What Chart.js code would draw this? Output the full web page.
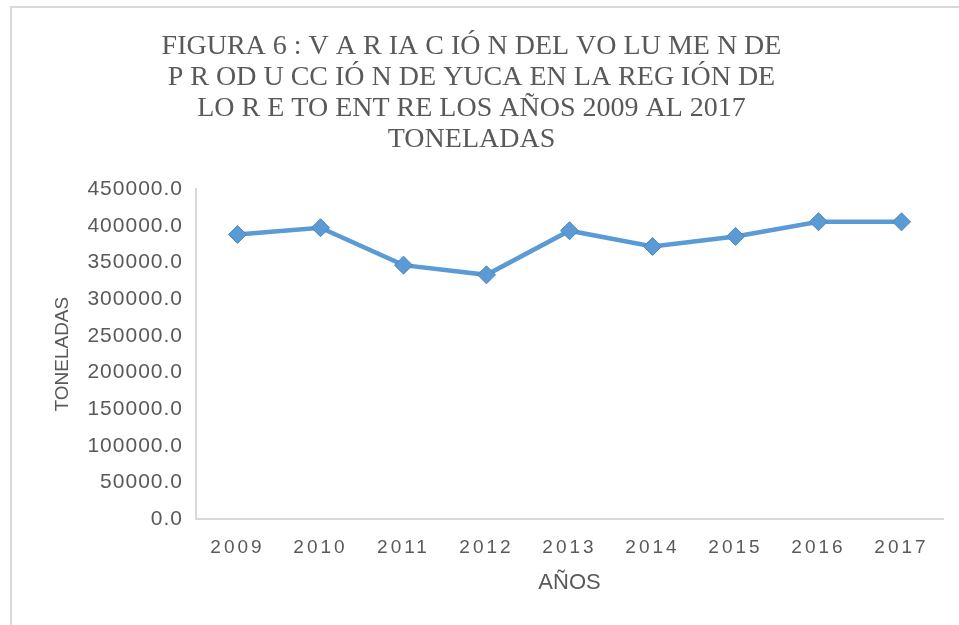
<!DOCTYPE html>
<html>
<head>
<meta charset="utf-8">
<script src="https://cdn.jsdelivr.net/npm/chart.js@4.4.1/dist/chart.umd.min.js"></script>
<style>
  html, body { margin: 0; padding: 0; background: #ffffff; }
  #wrap { width: 959px; height: 625px; position: relative; }
</style>
</head>
<body>
<div id="wrap"><canvas id="c" width="959" height="625"></canvas></div>
<script>
const categories = ['2009', '2010', '2011', '2012', '2013', '2014', '2015', '2016', '2017'];
const toneladas = [388400, 397600, 346500, 333300, 393500, 372000, 385700, 405800, 405600];
const titleLines = [
  'FIGURA 6 : V A R IA C IÓ N DEL VO LU ME N DE',
  'P R OD U CC IÓ N DE YUCA EN LA REG IÓN DE',
  'LO R E TO ENT RE LOS AÑOS 2009 AL 2017',
  'TONELADAS'
];
const yAxisTitle = 'TONELADAS';
const xAxisTitle = 'AÑOS';

const gray = '#595959';
const lineGray = '#d9d9d9';

const framePlugin = {
  id: 'frame',
  beforeDraw(chart) {
    const ctx = chart.ctx;
    ctx.save();
    ctx.fillStyle = '#ffffff';
    ctx.fillRect(0, 0, chart.width, chart.height);
    ctx.fillStyle = lineGray;
    ctx.fillRect(10, 6, chart.width - 10, 2);
    ctx.fillRect(10, 6, 2, chart.height - 6);
    ctx.restore();
    // letter-spaced tick labels
    chart.scales && Object.values(chart.scales).forEach(sc => {
      if (sc._lsWrapped) return;
      const orig = sc.drawLabels;
      const ls = sc.axis === 'x' ? '3px' : '1px';
      sc.drawLabels = function (area) {
        const c = this.ctx;
        c.save();
        c.letterSpacing = ls;
        orig.call(this, area);
        c.restore();
      };
      sc._lsWrapped = true;
    });
  }
};

new Chart(document.getElementById('c'), {
  type: 'line',
  data: {
    labels: categories,
    datasets: [{
      data: toneladas,
      borderColor: '#5b9bd5',
      backgroundColor: '#5b9bd5',
      borderWidth: 4.5,
      pointStyle: 'rectRot',
      pointRadius: 9,
      pointHoverRadius: 9,
      pointBackgroundColor: '#5b9bd5',
      pointBorderColor: '#4f86b8',
      pointBorderWidth: 1,
      tension: 0,
      fill: false
    }]
  },
  options: {
    responsive: false,
    animation: false,
    devicePixelRatio: 1,
    layout: { padding: { top: 0, left: 0, right: 16, bottom: 0 } },
    plugins: {
      legend: { display: false },
      tooltip: { enabled: false },
      title: {
        display: true,
        text: titleLines,
        color: gray,
        font: { family: '"Liberation Serif", "Times New Roman", serif', size: 28, weight: 'normal', lineHeight: 1.11 },
        padding: { top: 31, bottom: 34 }
      }
    },
    scales: {
      x: {
        type: 'category',
        offset: true,
        grid: { display: false, drawTicks: false },
        border: { display: true, color: lineGray, width: 2 },
        ticks: {
          color: gray,
          padding: 17,
          maxRotation: 0,
          autoSkip: false,
          font: { family: '"Liberation Sans", Arial, sans-serif', size: 19 }
        },
        title: {
          display: true,
          text: xAxisTitle,
          color: gray,
          font: { family: '"Liberation Sans", Arial, sans-serif', size: 22 },
          padding: { top: 0, bottom: 29 }
        },
        afterFit(scale) { scale.height = 106; }
      },
      y: {
        min: 0,
        max: 450000,
        grid: { display: false, drawTicks: false },
        border: { display: true, color: lineGray, width: 2 },
        ticks: {
          stepSize: 50000,
          color: gray,
          padding: 13,
          font: { family: '"Liberation Sans", Arial, sans-serif', size: 21 },
          callback: (v) => Number(v).toFixed(1)
        },
        title: {
          display: true,
          text: yAxisTitle,
          color: gray,
          font: { family: '"Liberation Sans", Arial, sans-serif', size: 19 },
          padding: { top: 51, bottom: 0 }
        },
        afterFit(scale) { scale.width = 196; }
      }
    }
  },
  plugins: [framePlugin]
});
</script>
</body>
</html>
